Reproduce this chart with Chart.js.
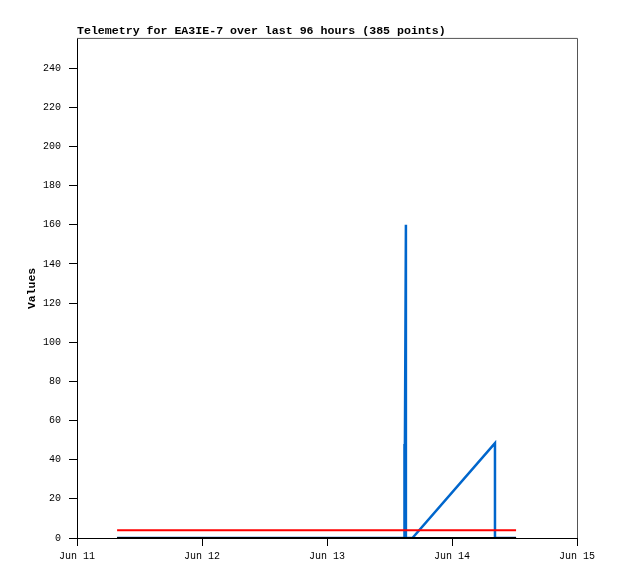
<!DOCTYPE html>
<html>
<head>
<meta charset="utf-8">
<script src="https://cdn.jsdelivr.net/npm/chart.js@4/dist/chart.umd.min.js"></script>
<style>
	html, body { margin: 0; padding: 0; background: #fff; }
	#wrap { width: 618px; height: 579px; position: relative; }
</style>
</head>
<body>
<div id="wrap"><canvas id="myChart"></canvas></div>
<script>
(() => {
	"use strict";

	// hours since Jun 11 00:00
	const dayLabels = ["Jun 11", "Jun 12", "Jun 13", "Jun 14", "Jun 15"];
	const blueHours = [7.7, 62.85, 62.85, 62.9, 63.15, 63.15, 64.4, 80.25, 80.25, 84.3];
	const blueValues = [0, 0, 48, 0, 160, 0, 0, 48.5, 0, 0];
	const redHours = [7.7, 84.3];
	const redValues = [4, 4];
	const blackHours = [7.7, 84.3];
	const blackValues = [0, 0];

	const pts = (xs, ys) => xs.map((x, i) => ({ x: x, y: ys[i] }));
	const mono = "'Liberation Mono', 'DejaVu Sans Mono', monospace";

	// grey top and right edges of the plot frame
	const frame = {
		id: "frame",
		beforeDatasetsDraw(chart) {
			const a = chart.chartArea;
			const c = chart.ctx;
			c.save();
			c.strokeStyle = "#555";
			c.lineWidth = 1;
			c.beginPath();
			c.moveTo(a.left, a.top - 0.5);
			c.lineTo(a.right + 0.5, a.top - 0.5);
			c.lineTo(a.right + 0.5, a.bottom);
			c.stroke();
			c.restore();
		},
	};

	const ctx = document.getElementById("myChart");
	// eslint-disable-next-line no-unused-vars
	const myChart = new Chart(ctx, {
		type: "scatter",
		data: {
			datasets: [
				{
					data: pts(blueHours, blueValues),
					showLine: true,
					borderColor: "#0066cc",
					borderWidth: 2.5,
					pointRadius: 0,
					order: 3,
				},
				{
					data: pts(redHours, redValues),
					showLine: true,
					borderColor: "#ff0000",
					borderWidth: 2,
					pointRadius: 0,
					order: 2,
				},
				{
					data: pts(blackHours, blackValues),
					showLine: true,
					borderColor: "#000000",
					borderWidth: 2,
					pointRadius: 0,
					order: 1,
				},
			],
		},
		plugins: [frame],
		options: {
			responsive: true,
			maintainAspectRatio: false,
			animation: false,
			layout: { padding: { top: 22, right: 41, left: 0, bottom: 0 } },
			plugins: {
				legend: { display: false },
				tooltip: { enabled: false },
				title: {
					display: true,
					text: "Telemetry for EA3IE-7 over last 96 hours (385 points)",
					align: "start",
					fullSize: false,
					color: "#000",
					font: { family: mono, size: 11.6, weight: "bold" },
					padding: { top: 2, bottom: 1 },
				},
			},
			scales: {
				x: {
					type: "linear",
					min: 0,
					max: 96,
					afterFit: (s) => { s.height = 41; },
					afterBuildTicks: (s) => {
						s.ticks = dayLabels.map((_, i) => ({ value: i * 24 }));
					},
					ticks: {
						callback: (v) => dayLabels[Math.round(v / 24)],
						color: "#000",
						font: { family: mono, size: 10 },
						padding: 4,
						maxRotation: 0,
					},
					grid: { drawOnChartArea: false, tickLength: 8, color: "#000" },
					border: { color: "#000" },
				},
				y: {
					min: 0,
					max: 255,
					afterFit: (s) => { s.width = 77; },
					afterBuildTicks: (s) => {
						const t = [];
						for (let v = 0; v <= 240; v += 20) t.push({ value: v });
						s.ticks = t;
					},
					ticks: {
						color: "#000",
						font: { family: mono, size: 10 },
						padding: 8,
					},
					grid: { drawOnChartArea: false, tickLength: 8, color: "#000" },
					border: { color: "#000" },
					title: {
						display: true,
						text: "Values",
						color: "#000",
						font: { family: mono, size: 11.4, weight: "bold" },
						padding: { top: 25, bottom: 0 },
					},
				},
			},
		},
	});
})();
</script>
</body>
</html>
